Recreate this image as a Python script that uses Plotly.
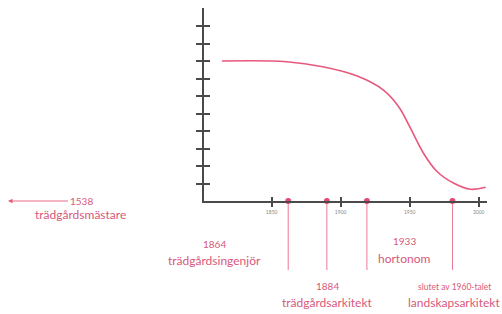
import plotly.graph_objects as go

# ---- data ----
curve_years = [1814, 1861, 1887, 1912, 1931, 1942, 1950, 1960, 1970, 1982, 1994, 2005]
curve_values = [8.0, 7.96, 7.67, 7.14, 6.34, 5.39, 4.25, 2.73, 1.67, 1.01, 0.67, 0.78]

event_positions = [1862, 1890, 1919, 1981]
event_years = ["1864", "1884", "1933", "slutet av 1960-talet"]
event_titles = ["trädgårdsingenjör", "trädgårdsarkitekt", "hortonom", "landskapsarkitekt"]

x_tick_vals = [1850, 1900, 1950, 2000]
x_tick_text = ["1850", "1900", "1950", "2000"]
y_tick_vals = [1, 2, 3, 4, 5, 6, 7, 8, 9, 10]

first_year = "1538"
first_title = "trädgårdsmästare"

# ---- layout helpers (pixel -> paper) ----
W, H = 502, 314
L, R, T, B = 204, 15, 8, 113
PW, PH = W - L - R, H - T - B


def px(x):
    return (x - L) / PW


def py(y):
    return (H - B - y) / PH


PINK = "#e8587c"
TEXT = "#d9587a"
AXIS = "#4a4a4a"
FONT = "Lato"

fig = go.Figure()

fig.add_trace(go.Scatter(
    x=curve_years, y=curve_values, mode="lines",
    line=dict(color=PINK, width=1.6, shape="spline", smoothing=1.1),
    hoverinfo="skip", showlegend=False,
))

fig.add_trace(go.Scatter(
    x=event_positions, y=[0] * len(event_positions), mode="markers",
    marker=dict(color="#e24a72", size=6, symbol="circle"),
    cliponaxis=False, hoverinfo="skip", showlegend=False,
))

# second (overlaid) axes for ticks crossing the axis lines
fig.add_trace(go.Scatter(x=[None], y=[None], xaxis="x2", yaxis="y2", showlegend=False))

xrange = [1801, 2006]
yrange = [0, PH / 17.5]

fig.update_layout(
    width=W, height=H,
    margin=dict(l=L, r=R, t=T, b=B),
    paper_bgcolor="white", plot_bgcolor="white",
    font=dict(family=FONT, color=TEXT),
    xaxis=dict(range=xrange, showgrid=False, zeroline=False, showline=True,
               linecolor=AXIS, linewidth=2, ticks="outside", ticklen=4,
               tickwidth=1.5, tickcolor=AXIS, tickvals=x_tick_vals,
               ticktext=x_tick_text, tickfont=dict(size=5, color="#888"),
               ticklabelstandoff=1, fixedrange=True),
    yaxis=dict(range=yrange, showgrid=False, zeroline=False, showline=True,
               linecolor=AXIS, linewidth=2, ticks="outside", ticklen=6,
               tickwidth=1.5, tickcolor=AXIS, tickvals=y_tick_vals,
               showticklabels=False, fixedrange=True),
    xaxis2=dict(range=xrange, overlaying="x", anchor="y2", side="bottom",
                showgrid=False, zeroline=False, showline=False, ticks="inside",
                ticklen=4, tickwidth=1.5, tickcolor=AXIS, tickvals=x_tick_vals,
                showticklabels=False, fixedrange=True),
    yaxis2=dict(range=yrange, overlaying="y", anchor="x2", side="left",
                showgrid=False, zeroline=False, showline=False, ticks="inside",
                ticklen=6, tickwidth=1.5, tickcolor=AXIS, tickvals=y_tick_vals,
                showticklabels=False, fixedrange=True),
    showlegend=False,
)

# vertical connector lines from the axis down to labels
for xp in event_positions:
    fig.add_shape(type="line", xref="x", yref="paper", x0=xp, x1=xp,
                  y0=py(201), y1=py(270), line=dict(color=PINK, width=0.8),
                  layer="below")

# label pixel positions (centre x, year y, title y)
label_pos = [(214, 244, 260), (327, 286, 302), (404, 241, 258), (454, 287, 302)]
year_sizes = [10, 10, 10, 8.5]
for (cx, yy, ty), yr, title, ys in zip(label_pos, event_years, event_titles, year_sizes):
    fig.add_annotation(xref="paper", yref="paper", x=px(cx), y=py(yy), text=yr,
                       showarrow=False, font=dict(size=ys, color=TEXT),
                       xanchor="center", yanchor="middle")
    fig.add_annotation(xref="paper", yref="paper", x=px(cx), y=py(ty), text=title,
                       showarrow=False, font=dict(size=12, color=TEXT),
                       xanchor="center", yanchor="middle")

# 1538 arrow + labels
fig.add_annotation(xref="paper", yref="paper", x=px(8), y=py(201), text=first_year,
                   showarrow=True, ax=73, ay=0, arrowhead=2, arrowsize=1,
                   arrowwidth=0.9, arrowcolor=PINK, font=dict(size=10, color=TEXT),
                   standoff=0, startstandoff=0)
fig.add_annotation(xref="paper", yref="paper", x=px(80), y=py(214), text=first_title,
                   showarrow=False, font=dict(size=12, color=TEXT),
                   xanchor="center", yanchor="middle")

fig.write_html("out.html", config={"displayModeBar": False},
               post_script="document.body.style.margin='0';document.body.style.padding='0';")
